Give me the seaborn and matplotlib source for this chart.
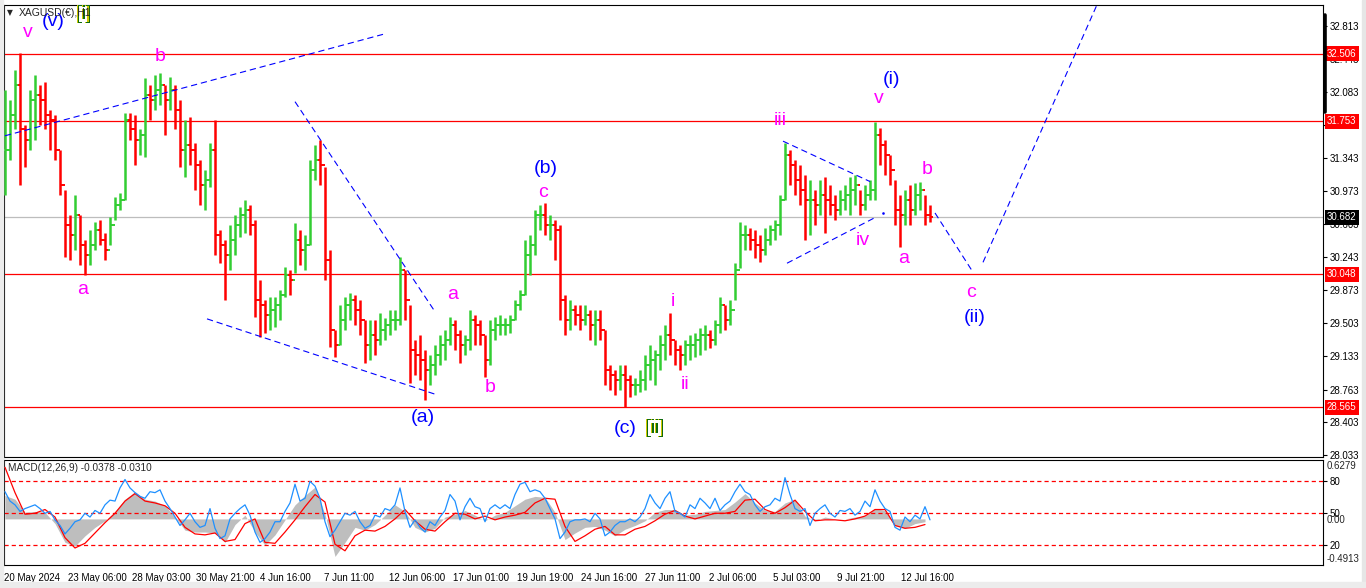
import numpy as np
import pandas as pd
import matplotlib
matplotlib.use("Agg")
import matplotlib.pyplot as plt
import matplotlib.patheffects as pe
from matplotlib import transforms
from matplotlib.lines import Line2D
from matplotlib.patches import Rectangle
import seaborn as sns

# ---------------- data (XAGUSD H1, one bar ~ 5 hourly bars) -------------
high = [32.10, 31.99, 32.32, 32.51, 31.71, 32.10, 32.27, 32.16, 32.19, 31.88,
        31.82, 31.43, 30.99, 30.71, 30.93, 30.71, 30.43, 30.54, 30.63, 30.65,
        30.51, 30.69, 30.91, 30.95, 31.84, 31.84, 31.82, 31.66, 32.23, 32.16,
        32.27, 32.29, 32.16, 32.25, 32.16, 31.99, 31.77, 31.80, 31.51, 31.32,
        31.21, 31.51, 31.77, 30.54, 30.43, 30.60, 30.71, 30.80, 30.87, 30.82,
        30.65, 29.98, 29.76, 29.79, 29.79, 29.87, 30.13, 30.09, 30.62, 30.54,
        30.49, 31.32, 31.49, 31.54, 31.24, 30.32, 29.43, 29.70, 29.79, 29.84,
        29.82, 29.76, 29.54, 29.54, 29.54, 29.62, 29.56, 29.65, 29.65, 30.24,
        30.09, 29.70, 29.32, 29.37, 29.20, 29.15, 29.26, 29.37, 29.43, 29.57,
        29.54, 29.43, 29.37, 29.65, 29.59, 29.54, 29.37, 29.54, 29.57, 29.59,
        29.56, 29.59, 29.76, 29.87, 30.43, 30.49, 30.76, 30.82, 30.84, 30.71,
        30.65, 30.60, 29.82, 29.76, 29.70, 29.70, 29.70, 29.65, 29.65, 29.65,
        29.43, 29.04, 28.98, 29.04, 29.04, 28.92, 28.89, 28.98, 29.15, 29.26,
        29.20, 29.37, 29.48, 29.62, 29.32, 29.26, 29.32, 29.37, 29.39, 29.45,
        29.48, 29.43, 29.54, 29.79, 29.70, 29.76, 30.17, 30.63, 30.60, 30.56,
        30.54, 30.49, 30.56, 30.60, 30.65, 30.93, 31.51, 31.43, 31.32, 31.26,
        31.15, 31.10, 30.99, 31.10, 31.13, 31.04, 30.93, 30.99, 31.04, 31.13,
        31.15, 30.99, 31.04, 31.10, 31.74, 31.68, 31.54, 31.38, 31.10, 30.93,
        30.99, 31.04, 31.06, 31.08, 30.93, 30.82]
low = [30.93, 31.32, 31.66, 31.04, 31.24, 31.43, 31.54, 31.71, 31.66, 31.43,
       31.32, 30.93, 30.24, 30.21, 30.32, 30.15, 30.04, 30.15, 30.32, 30.37,
       30.21, 30.37, 30.65, 30.76, 30.87, 31.54, 31.26, 31.38, 31.35, 31.77,
       31.88, 31.93, 31.60, 31.88, 31.66, 31.24, 31.13, 31.26, 30.99, 30.82,
       30.76, 31.02, 30.26, 30.17, 29.76, 30.09, 30.26, 30.46, 30.51, 30.49,
       29.57, 29.35, 29.39, 29.43, 29.46, 29.54, 29.79, 29.82, 30.06, 30.15,
       30.09, 30.37, 31.10, 31.04, 29.98, 29.24, 29.13, 29.26, 29.43, 29.54,
       29.48, 29.37, 29.06, 29.09, 29.15, 29.26, 29.32, 29.37, 29.43, 29.48,
       29.54, 28.83, 28.92, 28.87, 28.65, 28.81, 28.92, 29.04, 29.09, 29.26,
       29.20, 29.06, 29.15, 29.20, 29.26, 29.26, 28.90, 29.04, 29.32, 29.37,
       29.37, 29.39, 29.54, 29.65, 29.82, 30.04, 30.26, 30.54, 30.49, 30.43,
       30.21, 29.54, 29.37, 29.43, 29.48, 29.43, 29.48, 29.32, 29.26, 29.32,
       28.81, 28.76, 28.70, 28.76, 28.57, 28.68, 28.70, 28.74, 28.76, 28.87,
       28.81, 28.98, 29.09, 29.15, 29.04, 28.98, 29.04, 29.09, 29.13, 29.15,
       29.20, 29.23, 29.26, 29.39, 29.43, 29.48, 29.76, 30.12, 30.32, 30.32,
       30.23, 30.18, 30.26, 30.37, 30.43, 30.49, 30.87, 31.04, 30.93, 30.82,
       30.43, 30.49, 30.60, 30.71, 30.51, 30.71, 30.65, 30.71, 30.76, 30.71,
       30.82, 30.71, 30.76, 30.87, 30.87, 31.26, 31.15, 31.04, 30.60, 30.35,
       30.60, 30.60, 30.71, 30.76, 30.60, 30.63]
close = [31.43, 31.82, 32.16, 31.66, 31.54, 31.99, 32.04, 31.99, 31.82, 31.77,
         31.43, 31.04, 30.60, 30.49, 30.71, 30.37, 30.26, 30.37, 30.54, 30.43,
         30.32, 30.60, 30.82, 30.87, 31.77, 31.66, 31.54, 31.60, 32.04, 31.99,
         32.10, 32.16, 31.99, 32.10, 31.88, 31.43, 31.49, 31.43, 31.26, 31.04,
         31.10, 31.43, 30.49, 30.37, 30.26, 30.43, 30.60, 30.71, 30.76, 30.60,
         29.76, 29.70, 29.59, 29.65, 29.70, 29.82, 30.04, 29.98, 30.43, 30.32,
         30.37, 31.21, 31.32, 31.26, 30.21, 29.43, 29.26, 29.54, 29.70, 29.76,
         29.65, 29.54, 29.26, 29.37, 29.32, 29.43, 29.48, 29.54, 29.54, 30.09,
         29.76, 29.20, 29.15, 29.09, 28.98, 29.04, 29.15, 29.26, 29.32, 29.48,
         29.37, 29.26, 29.32, 29.54, 29.48, 29.37, 29.09, 29.43, 29.48, 29.48,
         29.48, 29.54, 29.70, 29.82, 30.26, 30.37, 30.71, 30.71, 30.60, 30.60,
         30.54, 29.76, 29.54, 29.65, 29.59, 29.54, 29.59, 29.48, 29.54, 29.43,
         28.98, 28.92, 28.87, 28.92, 28.87, 28.81, 28.81, 28.87, 29.04, 29.09,
         29.15, 29.26, 29.37, 29.32, 29.20, 29.15, 29.26, 29.26, 29.32, 29.37,
         29.37, 29.32, 29.48, 29.70, 29.54, 29.65, 30.09, 30.49, 30.49, 30.43,
         30.37, 30.32, 30.43, 30.54, 30.60, 30.87, 31.38, 31.26, 31.10, 30.99,
         30.87, 30.87, 30.82, 30.93, 30.87, 30.82, 30.76, 30.87, 30.93, 30.99,
         31.04, 30.82, 30.93, 30.99, 31.60, 31.49, 31.38, 31.21, 30.76, 30.71,
         30.87, 30.76, 30.93, 30.99, 30.71, 30.68]

# MACD sub-window: histogram (grey) and signal (red) every 2nd bar, fast line (blue) every bar
macd_hist = [0.25, 0.21, 0.07, 0.08, 0.07, -0.05, -0.25, -0.29, -0.18, -0.09,
             -0.02, 0.08, 0.21, 0.29, 0.21, 0.19, 0.14, 0.02, -0.12, -0.14,
             -0.14, -0.15, -0.25, -0.06, 0.04, -0.14, -0.28, -0.17, -0.01, 0.15,
             0.25, 0.34, 0.05, -0.40, -0.25, -0.09, -0.12, -0.06, 0.04, 0.15,
             0.08, -0.09, -0.14, -0.10, 0.02, 0.05, 0.09, 0.04, -0.02, 0.04,
             0.07, 0.14, 0.21, 0.24, 0.23, 0.07, -0.22, -0.15, -0.09, -0.08,
             -0.12, -0.18, -0.11, -0.07, -0.02, 0.07, 0.10, 0.10, 0.04, 0.05,
             0.08, 0.09, 0.10, 0.18, 0.27, 0.17, 0.09, 0.08, 0.17, 0.21,
             0.03, -0.02, 0.02, 0.00, 0.00, 0.02, 0.03, 0.11, 0.09, -0.07,
             -0.10, -0.05, -0.03]
macd_signal = [0.55, 0.28, 0.05, 0.06, 0.10, 0.02, -0.20, -0.31, -0.26, -0.15,
               -0.04, 0.06, 0.19, 0.27, 0.19, 0.17, 0.14, 0.06, -0.09, -0.16,
               -0.17, -0.15, -0.24, -0.22, -0.05, 0.00, -0.25, -0.26, -0.14, -0.01,
               0.13, 0.26, 0.18, -0.27, -0.34, -0.18, -0.12, -0.13, -0.08, 0.00,
               0.10, -0.02, -0.11, -0.13, -0.03, 0.06, 0.05, 0.00, 0.03, -0.01,
               0.02, 0.04, 0.07, 0.17, 0.22, 0.21, -0.08, -0.24, -0.18, -0.11,
               -0.08, -0.17, -0.17, -0.11, -0.08, -0.02, 0.05, 0.09, 0.03, 0.00,
               0.03, 0.06, 0.06, 0.08, 0.20, 0.21, 0.10, 0.06, 0.12, 0.20,
               0.08, -0.02, -0.01, -0.01, -0.02, 0.00, 0.03, 0.10, 0.10, -0.07,
               -0.10, -0.09, -0.06]
macd_fast = [0.29, 0.19, 0.15, 0.08, 0.11, 0.13, 0.15, 0.11, 0.06, 0.08,
             -0.01, -0.07, -0.16, -0.10, -0.03, -0.01, 0.06, 0.02, 0.09, 0.06,
             0.15, 0.20, 0.19, 0.33, 0.42, 0.33, 0.28, 0.24, 0.22, 0.29,
             0.28, 0.31, 0.19, 0.11, 0.02, -0.07, -0.01, 0.06, -0.03, -0.09,
             -0.07, 0.11, -0.10, -0.21, -0.18, 0.00, 0.06, 0.11, 0.15, 0.04,
             -0.14, -0.25, -0.21, -0.14, -0.03, -0.03, 0.08, 0.17, 0.37, 0.19,
             0.22, 0.40, 0.35, 0.22, -0.03, -0.19, -0.12, -0.03, 0.06, 0.04,
             0.08, -0.03, -0.10, -0.07, 0.04, 0.02, 0.11, 0.09, 0.15, 0.33,
             0.08, -0.09, -0.01, -0.09, -0.14, -0.03, -0.07, 0.02, 0.09, 0.26,
             0.19, -0.01, 0.13, 0.22, 0.13, 0.11, -0.03, 0.11, 0.15, 0.11,
             0.15, 0.11, 0.26, 0.37, 0.39, 0.29, 0.31, 0.29, 0.22, 0.11,
             0.00, -0.21, -0.14, -0.03, -0.01, -0.01, 0.00, -0.03, 0.06, 0.00,
             -0.18, -0.14, -0.07, -0.03, -0.03, 0.00, -0.03, 0.02, 0.11, 0.26,
             0.17, 0.11, 0.22, 0.29, 0.08, 0.06, 0.02, 0.15, 0.11, 0.22,
             0.17, 0.11, 0.22, 0.09, 0.15, 0.19, 0.29, 0.37, 0.29, 0.26,
             0.15, 0.08, 0.13, 0.15, 0.22, 0.19, 0.44, 0.26, 0.11, 0.08,
             0.11, -0.07, 0.06, 0.11, 0.15, 0.06, 0.02, 0.09, 0.08, 0.11,
             0.04, 0.08, 0.19, 0.13, 0.31, 0.19, 0.11, 0.08, -0.09, -0.12,
             0.02, -0.03, 0.04, 0.00, 0.13, -0.01]

price_ticks = [32.813, 32.443, 32.083, 31.713, 31.343, 30.973, 30.603, 30.243,
               29.873, 29.503, 29.133, 28.763, 28.403, 28.033]
red_levels = [32.506, 31.753, 30.048, 28.565]
last_price = 30.682
date_labels = ["20 May 2024", "23 May 06:00", "28 May 03:00", "30 May 21:00",
               "4 Jun 16:00", "7 Jun 11:00", "12 Jun 06:00", "17 Jun 01:00",
               "19 Jun 19:00", "24 Jun 16:00", "27 Jun 11:00", "2 Jul 06:00",
               "5 Jul 03:00", "9 Jul 21:00", "12 Jul 16:00"]
macd_levels = [0.40, 0.063, -0.279]
macd_level_labels = ["80", "50", "20"]

# wave labels: (text, bar, price, kind)
waves = [("v", 4.6, 32.74, "m"), ("(v)", 9.6, 32.86, "b"), ("[i]", 15.8, 32.94, "g"),
         ("b", 31.0, 32.47, "m"), ("a", 15.6, 29.88, "m"), ("a", 89.6, 29.82, "m"),
         ("b", 97.0, 28.78, "m"), ("(a)", 83.6, 28.45, "b"), ("(b)", 108.2, 31.23, "b"),
         ("c", 107.6, 30.96, "m"), ("(c)", 124.0, 28.33, "b"), ("[ii]", 130.0, 28.33, "g"),
         ("i", 133.6, 29.74, "m"), ("ii", 136.0, 28.82, "m"), ("iii", 155.0, 31.76, "m"),
         ("iv", 171.6, 30.42, "m"), ("v", 174.8, 32.00, "m"), ("(i)", 177.4, 32.22, "b"),
         ("b", 184.4, 31.21, "m"), ("a", 179.8, 30.22, "m"), ("c", 193.2, 29.84, "m"),
         ("(ii)", 194.0, 29.56, "b")]
# blue dashed trend / projection lines: (bar0, price0, bar1, price1)
trend_lines = [(0.0, 31.59, 75.6, 32.72), (58.0, 31.97, 86.0, 29.63),
               (40.4, 29.55, 86.6, 28.70), (155.6, 31.53, 173.0, 31.08),
               (156.4, 30.17, 174.4, 30.69), (186.0, 30.73, 193.6, 30.07),
               (195.6, 30.18, 218.4, 33.05)]

# ---------------- styling ----------------
sns.set_style("white")
plt.rcParams['font.family'] = ['Liberation Sans', 'DejaVu Sans']
plt.rcParams['lines.scale_dashes'] = False

W, H = 1366, 588
fig = plt.figure(figsize=(W / 100, H / 100), dpi=100, facecolor='white')


def box(l, t, r, b):
    return [l / W, 1 - b / H, (r - l) / W, (b - t) / H]


ax = fig.add_axes(box(4, 5, 1323, 457))
axm = fig.add_axes(box(4, 460, 1323, 565))
fig.patches.append(Rectangle((0, 0), 3 / W, 1, transform=fig.transFigure, color='#ECECEC', zorder=0))
fig.patches.append(Rectangle((1362 / W, 0), 4 / W, 1, transform=fig.transFigure, color='#E6E6E6', zorder=0))
fig.patches.append(Rectangle((0, 0), 1, 6 / H, transform=fig.transFigure, color='#ECECEC', zorder=0))

df = pd.DataFrame({"high": high, "low": low, "close": close})
df["open"] = df["close"].shift(1).fillna(df["close"].iloc[0])
df["x"] = np.arange(len(df))
up = df["close"] >= df["open"]
cols = np.where(up, "#32CD32", "#FF0000")

XL = (-0.2, 263.6)
for a in (ax, axm):
    a.set_xlim(*XL)
    a.set_facecolor('white')
    for s in a.spines.values():
        s.set_color('black')
        s.set_linewidth(0.8)

# horizontal levels
for lv in red_levels:
    ax.axhline(lv, color='#FF0000', lw=0.9, zorder=1)
ax.axhline(last_price, color='#BDBDBD', lw=0.9, zorder=1)

# price bars
ax.vlines(df["x"], df["low"], df["high"], colors=cols, lw=1.8, zorder=3)
ax.hlines(df["open"], df["x"] - 0.5, df["x"], colors=cols, lw=1.4, zorder=3)
ax.hlines(df["close"], df["x"], df["x"] + 0.5, colors=cols, lw=1.4, zorder=3)

# trend lines
for x0, y0, x1, y1 in trend_lines:
    ax.plot([x0, x1], [y0, y1], color='#0000FF', lw=0.8, ls=(0, (4.5, 2.8)), zorder=4)
ax.plot([175.6], [30.73], marker='s', ms=0.8, color='#0000FF', zorder=4)

ax.set_ylim(28.011, 33.047)
ax.yaxis.tick_right()
ax.set_yticks(price_ticks)
ax.set_yticklabels([f"{t:.3f}" for t in price_ticks])
ax.tick_params(axis='y', length=3, width=0.8, pad=2, labelsize=7, colors='black', direction='out')
ax.set_xticks([])

# wave labels
colors = {"m": "#FF00FF", "b": "#0000FF", "g": "#0F6B0F"}
for txt, bx, py, kind in waves:
    kw = {}
    if kind == "g":
        kw["path_effects"] = [pe.SimplePatchShadow(offset=(-0.8, 0), shadow_rgbFace='#D0C800', alpha=1.0),
                              pe.Normal()]
    ax.text(bx, py, txt, color=colors[kind], fontsize=14, ha='center', va='center',
            zorder=6, clip_on=False, **kw)

# right-side coloured price labels
tr = transforms.blended_transform_factory(ax.transAxes, ax.transData) + \
    transforms.ScaledTranslation(4 / 100, 0, fig.dpi_scale_trans)
for lv in red_levels:
    ax.text(1.0, lv, f"{lv:.3f}", transform=tr, fontsize=7, color='white', ha='left', va='center',
            bbox=dict(boxstyle='square,pad=0.25', fc='#FF0000', ec='none'), zorder=10, clip_on=False)
ax.text(1.0, last_price, f"{last_price:.3f}", transform=tr, fontsize=7, color='white', ha='left',
        va='center', bbox=dict(boxstyle='square,pad=0.25', fc='black', ec='none'), zorder=10, clip_on=False)
fig.add_artist(Line2D([1324.5 / W] * 2, [1 - 15 / H, 1 - 112 / H], lw=2.6, color='black'))

# title
fig.text(7 / W, 1 - 13 / H, "▼", fontsize=5.5, family='DejaVu Sans', va='center')
fig.text(19 / W, 1 - 13 / H, "XAGUSD(€),H1", fontsize=7.5, va='center')

# ---------------- MACD panel ----------------
xg = np.arange(0, len(df), 2)[:len(macd_hist)]
axm.fill_between(xg, 0, macd_hist, color='#BEBEBE', lw=0, zorder=1)
for lv in macd_levels:
    axm.axhline(lv, color='#FF0000', lw=0.9, ls=(0, (3, 2.2)), zorder=2)
sns.lineplot(x=xg, y=macd_signal, color='#FF0000', lw=0.9, ax=axm, zorder=3)
sns.lineplot(x=df["x"], y=macd_fast, color='#1E90FF', lw=0.9, ax=axm, zorder=4)
axm.set_ylim(-0.4913, 0.6279)
axm.set_ylabel("")
axm.yaxis.tick_right()
axm.set_yticks(macd_levels)
axm.set_yticklabels(macd_level_labels)
axm.tick_params(axis='y', length=3, width=0.8, pad=2, labelsize=7, colors='black')
trm = transforms.blended_transform_factory(axm.transAxes, axm.transData) + \
    transforms.ScaledTranslation(4 / 100, 0, fig.dpi_scale_trans)
axm.text(1.0, 0.565, "0.6279", transform=trm, fontsize=7, va='center', ha='left', clip_on=False)
axm.text(1.0, -0.012, "0.00", transform=trm, fontsize=7, va='center', ha='left', clip_on=False)
axm.text(1.0, -0.43, "-0.4913", transform=trm, fontsize=7, va='center', ha='left', clip_on=False)
fig.text(8 / W, 1 - 468 / H, "MACD(12,26,9) -0.0378 -0.0310", fontsize=7.2, va='center')

tick_pos = [-0.2 + 12.82 * k for k in range(len(date_labels))]
axm.set_xticks(tick_pos)
axm.set_xticklabels(date_labels)
off = transforms.ScaledTranslation(2 / 100, 0, fig.dpi_scale_trans)
for lbl in axm.get_xticklabels():
    lbl.set_horizontalalignment('left')
    lbl.set_transform(lbl.get_transform() + off)
axm.tick_params(axis='x', length=4, width=0.8, pad=2, labelsize=7, colors='black', direction='out')
axm.set_xlabel("")

fig.savefig("out.png", dpi=100, facecolor=fig.get_facecolor())
